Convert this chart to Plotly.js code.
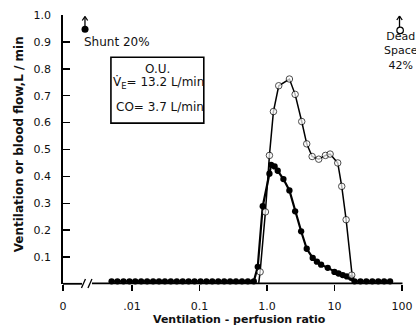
<!DOCTYPE html>
<html>
<head>
<meta charset="utf-8">
<script src="https://cdn.plot.ly/plotly-3.0.1.min.js"></script>
<style>html,body{margin:0;padding:0;background:#fff;}#chart{width:416px;height:335px;}</style>
</head>
<body>
<div id="chart"></div>
<script>
// ---- data ----
const flowRatio = [0.005,0.0061,0.0075,0.0092,0.0112,0.0137,0.0168,0.0206,0.0252,0.0308,0.0377,0.0462,0.0565,0.0692,0.0847,0.104,0.127,0.155,0.19,0.233,0.285,0.348,0.427,0.522,0.639,
  0.731,0.867,1.089,1.154,1.30,1.445,1.755,2.154,2.617,3.212,3.888,4.77,5.5,6.35,7.96,10.0,11.5,13.27,15.3,17.67,
  19.85,24.3,29.7,36.4,44.6,54.5,66.7];
const flowValue = [0.01,0.01,0.01,0.01,0.01,0.01,0.01,0.01,0.01,0.01,0.01,0.01,0.01,0.01,0.01,0.01,0.01,0.01,0.01,0.01,0.01,0.01,0.01,0.01,0.01,
  0.064,0.289,0.41,0.443,0.437,0.421,0.39,0.348,0.27,0.196,0.131,0.097,0.083,0.072,0.06,0.045,0.039,0.033,0.028,0.023,
  0.01,0.01,0.01,0.01,0.01,0.01,0.01];
const ventRatio = [0.756,0.793,0.950,1.089,1.248,1.496,2.154,2.617,3.278,3.888,4.673,5.853,7.356,8.638,11.19,12.83,14.90,18.04,18.8];
const ventValue = [0.004,0.045,0.268,0.478,0.641,0.737,0.762,0.705,0.604,0.521,0.474,0.464,0.478,0.483,0.450,0.363,0.239,0.033,0.004];
const shuntRatio = [0.00202];
const shuntValue = [0.947];
const deadRatio = [94.0];
const deadValue = [0.9425];
const xTickVals = [0.000955,0.01,0.1,1,10,100];
const xTickText = ['0','.01','0.1','1.0','10','100'];
const yTickVals = [0.1,0.2,0.3,0.4,0.5,0.6,0.7,0.8,0.9,1.0];
const yTickText = ['0.1','0.2','0.3','0.4','0.5','0.6','0.7','0.8','0.9','1.0'];
const xTitle = 'Ventilation - perfusion ratio';
const yTitle = 'Ventilation or blood flow,L / min';

// ---- layout helpers (pixel -> paper) ----
const L = 63, R = 402.5, T = 15, B = 284.5;
const PX = x => (x - L) / (R - L);
const PY = y => (B - y) / (B - T);
const FONT = 'DejaVu Sans, Arial, sans-serif';

const ventSizes = ventRatio.map((_, i) => (i === 0 || i === ventRatio.length - 1) ? 0 : 6.5);

const traces = [
  {x: flowRatio, y: flowValue, type: 'scatter', mode: 'lines+markers',
   line: {color: '#000', width: 2.2}, marker: {color: '#000', size: 6.3}, cliponaxis: false, hoverinfo: 'skip'},
  {x: ventRatio, y: ventValue, type: 'scatter', mode: 'lines+markers',
   line: {color: '#000', width: 1.5}, marker: {color: '#fff', size: ventSizes, line: {color: '#000', width: 1}}, cliponaxis: false, hoverinfo: 'skip'},
  {x: shuntRatio, y: shuntValue, type: 'scatter', mode: 'markers',
   marker: {color: '#000', size: 7}, cliponaxis: false, hoverinfo: 'skip'},
  {x: deadRatio, y: deadValue, type: 'scatter', mode: 'markers',
   marker: {color: '#fff', size: 6.5, line: {color: '#000', width: 1.2}}, cliponaxis: false, hoverinfo: 'skip'}
];

const blk = {color: '#000', width: 1.8};
const thin = {color: '#000', width: 1.3};
const seg = (x0, y0, x1, y1, line) => ({type: 'line', xref: 'paper', yref: 'paper',
  x0: PX(x0), y0: PY(y0), x1: PX(x1), y1: PY(y1), line: line});
const shapes = [
  seg(63, 284.3, 82, 284.3, blk),
  seg(81.5, 288.5, 85.5, 279.5, thin),
  seg(88, 288.5, 92, 279.5, thin),
  seg(92, 283.8, 403, 283.8, blk),
  {type: 'rect', xref: 'paper', yref: 'paper', x0: PX(111), x1: PX(204), y0: PY(123.3), y1: PY(57.3), line: {color: '#000', width: 1.6}},
  // shunt arrow
  seg(85, 26, 85, 16.5, thin),
  seg(82.3, 20.5, 85, 16.5, thin),
  seg(87.7, 20.5, 85, 16.5, thin),
  // dead space arrow
  seg(400, 27, 400, 16, thin),
  seg(397.3, 20, 400, 16, thin),
  seg(402.7, 20, 400, 16, thin)
];

const ann = (text, x, y, size, opts) => Object.assign({
  text: text, xref: 'paper', yref: 'paper', x: PX(x), y: PY(y), showarrow: false,
  xanchor: 'center', yanchor: 'middle', font: {family: FONT, size: size, color: '#111'}
}, opts || {});

const annotations = [
  ann('Shunt 20%', 82, 42.5, 12, {xanchor: 'left'}),
  ann('Dead<br>Space<br>42%', 401, 51, 11),
  ann('O.U.', 158, 69.3, 12),
  ann('V\u0307<sub>E</sub>= 13.2 L/min', 159, 83, 12),
  ann('CO= 3.7 L/min', 160, 106.7, 12),
  ann('<b>' + xTitle + '</b>', 240, 320, 11),
  ann('<b>' + yTitle + '</b>', 19, 144.5, 12, {textangle: -90})
];

const layout = {
  width: 416, height: 335,
  margin: {l: L, r: 416 - R, t: T, b: 335 - B, pad: 0},
  paper_bgcolor: '#fff', plot_bgcolor: '#fff',
  showlegend: false,
  font: {family: FONT, size: 11, color: '#111'},
  xaxis: {type: 'log', range: [-3.021, 2.001], tickmode: 'array', tickvals: xTickVals, ticktext: xTickText,
    ticks: 'outside', ticklen: 6, tickwidth: 1.5, tickcolor: '#000', showline: false, showgrid: false, zeroline: false,
    tickfont: {family: FONT, size: 11, color: '#111'}, ticklabelstandoff: 6, fixedrange: true},
  yaxis: {range: [0, 1.0], tickmode: 'array', tickvals: yTickVals, ticktext: yTickText,
    ticks: 'inside', ticklen: 7, tickwidth: 1.5, tickcolor: '#000', showline: true, linecolor: '#000', linewidth: 1.8,
    showgrid: false, zeroline: false, tickfont: {family: FONT, size: 11, color: '#111'}, ticklabelstandoff: 8, fixedrange: true},
  shapes: shapes,
  annotations: annotations
};

Plotly.newPlot('chart', traces, layout, {staticPlot: true, displayModeBar: false});
</script>
</body>
</html>
